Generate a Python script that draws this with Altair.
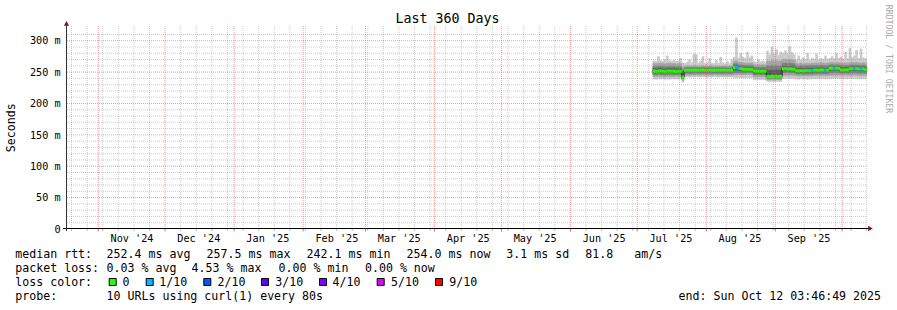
import altair as alt
import pandas as pd

# ------------------------------------------------------------------ data
FIRST_DAY = "2025-07-08"   # first day with measurements (one value per day)

median_ms = [
    251.8, 251.2, 251.6, 252.0, 251.4, 251.0, 251.5, 251.9, 251.3, 251.6, 250.9, 251.4, 251.2,
    242.1,
    252.8, 253.0, 253.1, 252.9, 253.2, 253.0, 252.8, 253.1, 253.3, 253.0, 252.9, 253.2, 253.0,
    252.7, 253.1, 253.0, 252.9, 253.2, 253.0, 252.8, 253.1, 252.9,
    257.2, 257.5, 256.0, 255.6,
    254.8, 254.4, 254.6, 254.2, 254.5,
    251.9, 251.5, 251.7, 251.3, 251.6, 251.4,
    243.0, 242.6, 243.2, 242.8, 243.4, 242.9, 243.1,
    255.2, 255.6, 254.8, 255.3, 254.9, 254.5,
    252.3, 252.0, 252.4, 251.8, 252.2, 252.5, 252.1, 252.6,
    253.0, 253.2, 252.8, 253.3, 253.1, 252.9, 253.2,
    256.1, 256.4, 255.9, 256.3, 256.0,
    253.4, 253.1, 253.6, 253.3,
    255.4, 255.8, 255.5, 255.7,
    255.2, 254.9, 255.3, 254.0,
]

loss_pings = [
    0, 0, 0, 0, 0, 0, 0, 0, 0, 0, 0, 0,
    0, 0, 0, 0, 0, 0, 0, 0, 0, 0, 0, 0,
    0, 0, 0, 0, 0, 0, 0, 0, 0, 0, 0, 0,
    0, 0.453, 0.3, 0, 0, 0, 0, 0, 0, 0, 0, 0,
    0, 0, 0, 0, 0, 0, 0, 0, 0, 0, 0, 0,
    0, 0, 0, 0, 0, 0, 0, 0, 0, 0, 0, 0.2,
    0, 0, 0, 0, 0, 0.2, 0, 0, 0, 0.3, 0, 0,
    0, 0, 0, 0, 0, 0, 0.2, 0, 0, 0.4, 0, 0,
]

# sorted ping rtts per day (ms): p1 = fastest ... p10 = slowest
p1 = [
    239.0, 238.5, 239.5, 238.8, 239.2, 238.6, 239.0, 238.4, 239.3, 238.9, 239.1, 238.7, 239.4,
    234.0,
    242.0, 242.5, 241.8, 242.3, 242.0, 242.6, 241.9, 242.2, 242.4, 242.1, 241.7, 242.3, 242.0,
    242.5, 242.2, 241.8, 242.4, 242.1, 242.3, 241.9, 242.2, 242.0,
    241.0, 240.5, 241.2, 240.8,
    241.0, 240.6, 241.3, 240.9, 241.1,
    238.0, 237.6, 238.2, 237.8, 238.1, 237.5,
    235.0, 234.6, 235.2, 234.8, 235.3, 234.7, 235.0,
    240.0, 239.5, 240.3, 239.8, 240.1, 239.6,
    239.0, 238.6, 239.3, 238.8, 239.1, 238.5, 239.2, 238.9,
    239.5, 239.1, 239.7, 239.3, 239.6, 239.0, 239.4,
    240.0, 239.6, 240.3, 239.8, 240.1,
    239.5, 239.2, 239.7, 239.3,
    240.0, 239.6, 240.2, 239.8,
    239.8, 239.4, 240.0, 239.5,
]
p2 = [
    243.0, 242.6, 243.3, 242.8, 243.1, 242.5, 243.2, 242.7, 243.0, 242.9, 243.4, 242.6, 243.1,
    237.0,
    245.0, 245.3, 244.8, 245.2, 245.0, 245.4, 244.9, 245.1, 245.3, 245.0, 244.7, 245.2, 245.0,
    245.4, 245.1, 244.8, 245.3, 245.0, 245.2, 244.9, 245.1, 245.0,
    246.0, 245.6, 246.2, 245.8,
    246.0, 245.7, 246.3, 245.9, 246.1,
    242.5, 242.1, 242.7, 242.3, 242.6, 242.0,
    238.0, 237.6, 238.3, 237.8, 238.2, 237.7, 238.0,
    245.0, 244.6, 245.3, 244.8, 245.1, 244.5,
    244.0, 243.6, 244.3, 243.8, 244.1, 243.5, 244.2, 243.9,
    244.5, 244.1, 244.7, 244.3, 244.6, 244.0, 244.4,
    245.0, 244.6, 245.3, 244.8, 245.1,
    245.0, 244.7, 245.2, 244.8,
    245.0, 244.6, 245.2, 244.8,
    244.8, 244.5, 245.0, 244.6,
]
p3 = [
    246.0, 245.7, 246.3, 245.8, 246.1, 245.6, 246.2, 245.9, 246.0, 245.8, 246.3, 245.7, 246.1,
    239.5,
    248.0, 248.2, 247.8, 248.1, 248.0, 248.3, 247.9, 248.1, 248.2, 248.0, 247.8, 248.1, 248.0,
    248.3, 248.1, 247.9, 248.2, 248.0, 248.1, 247.9, 248.0, 248.0,
    249.0, 248.7, 249.2, 248.8,
    249.0, 248.7, 249.3, 248.9, 249.1,
    246.0, 245.7, 246.2, 245.8, 246.1, 245.6,
    240.0, 239.7, 240.3, 239.8, 240.2, 239.7, 240.0,
    249.0, 248.7, 249.3, 248.8, 249.1, 248.6,
    247.0, 246.7, 247.3, 246.8, 247.1, 246.6, 247.2, 246.9,
    247.5, 247.2, 247.7, 247.3, 247.6, 247.1, 247.4,
    249.0, 248.7, 249.3, 248.8, 249.1,
    248.5, 248.2, 248.7, 248.3,
    248.8, 248.5, 249.0, 248.6,
    248.6, 248.3, 248.8, 248.0,
]
p4 = [
    249.0, 248.7, 249.2, 249.1, 248.9, 248.6, 249.1, 249.3, 248.8, 249.0, 248.5, 248.9, 248.8,
    241.0,
    250.5, 250.7, 250.8, 250.6, 250.9, 250.7, 250.5, 250.8, 251.0, 250.7, 250.6, 250.9, 250.7,
    250.4, 250.8, 250.7, 250.6, 250.9, 250.7, 250.5, 250.8, 250.6,
    253.0, 253.3, 252.5, 252.2,
    252.0, 251.7, 252.1, 251.6, 251.9,
    248.5, 248.2, 248.7, 248.3, 248.6, 248.1,
    242.0, 241.6, 242.2, 241.8, 242.3, 241.7, 242.0,
    252.0, 252.4, 251.7, 252.1, 251.8, 251.4,
    249.5, 249.2, 249.6, 249.0, 249.4, 249.7, 249.3, 249.8,
    250.2, 250.4, 250.0, 250.5, 250.3, 250.1, 250.4,
    253.0, 253.3, 252.8, 253.2, 252.9,
    250.5, 250.2, 250.7, 250.4,
    252.5, 252.9, 252.6, 252.8,
    252.3, 252.0, 252.4, 251.5,
]
p5 = [
    251.0, 250.4, 250.8, 251.2, 250.6, 250.2, 250.7, 251.1, 250.5, 250.8, 250.1, 250.6, 250.4,
    241.6,
    252.2, 252.4, 252.5, 252.3, 252.6, 252.4, 252.2, 252.5, 252.7, 252.4, 252.3, 252.6, 252.4,
    252.1, 252.5, 252.4, 252.3, 252.6, 252.4, 252.2, 252.5, 252.3,
    256.5, 256.8, 255.3, 254.9,
    254.1, 253.7, 253.9, 253.5, 253.8,
    251.1, 250.7, 250.9, 250.5, 250.8, 250.6,
    242.4, 242.0, 242.6, 242.2, 242.8, 242.3, 242.5,
    254.5, 254.9, 254.1, 254.6, 254.2, 253.8,
    251.6, 251.3, 251.7, 251.1, 251.5, 251.8, 251.4, 251.9,
    252.3, 252.5, 252.1, 252.6, 252.4, 252.2, 252.5,
    255.4, 255.7, 255.2, 255.6, 255.3,
    252.7, 252.4, 252.9, 252.6,
    254.7, 255.1, 254.8, 255.0,
    254.5, 254.2, 254.6, 253.3,
]
p6 = [
    252.6, 252.0, 252.4, 252.8, 252.2, 251.8, 252.3, 252.7, 252.1, 252.4, 251.7, 252.2, 252.0,
    242.6,
    253.4, 253.6, 253.7, 253.5, 253.8, 253.6, 253.4, 253.7, 253.9, 253.6, 253.5, 253.8, 253.6,
    253.3, 253.7, 253.6, 253.5, 253.8, 253.6, 253.4, 253.7, 253.5,
    257.9, 258.2, 256.7, 256.3,
    255.5, 255.1, 255.3, 254.9, 255.2,
    252.7, 252.3, 252.5, 252.1, 252.4, 252.2,
    243.6, 243.2, 243.8, 243.4, 244.0, 243.5, 243.7,
    255.9, 256.3, 255.5, 256.0, 255.6, 255.2,
    253.0, 252.7, 253.1, 252.5, 252.9, 253.2, 252.8, 253.3,
    253.7, 253.9, 253.5, 254.0, 253.8, 253.6, 253.9,
    256.8, 257.1, 256.6, 257.0, 256.7,
    254.1, 253.8, 254.3, 254.0,
    256.1, 256.5, 256.2, 256.4,
    255.9, 255.6, 256.0, 254.7,
]
p7 = [
    255.5, 255.0, 255.8, 256.0, 255.3, 254.9, 255.4, 255.9, 255.2, 255.6, 254.8, 255.3, 255.1,
    246.0,
    255.0, 255.2, 255.3, 255.1, 255.4, 255.2, 255.0, 255.3, 255.5, 255.2, 255.1, 255.4, 255.2,
    254.9, 255.3, 255.2, 255.1, 255.4, 255.2, 255.0, 255.3, 255.1,
    260.0, 260.5, 259.0, 258.6,
    258.0, 257.6, 257.9, 257.4, 257.7,
    255.0, 254.6, 254.9, 254.4, 254.8, 254.5,
    253.0, 252.4, 253.3, 252.8, 253.5, 252.6, 253.1,
    259.0, 259.4, 258.6, 259.1, 258.7, 258.2,
    256.0, 255.6, 256.2, 255.5, 255.9, 256.3, 255.8, 256.4,
    256.3, 256.6, 256.1, 256.7, 256.4, 256.2, 256.5,
    259.0, 259.4, 258.8, 259.2, 258.9,
    257.0, 256.7, 257.3, 256.9,
    258.5, 258.9, 258.6, 258.8,
    258.3, 258.0, 258.5, 257.5,
]
p8 = [
    259.0, 258.5, 259.3, 259.5, 258.8, 258.4, 259.0, 259.4, 258.7, 259.1, 258.3, 258.8, 258.6,
    252.0,
    257.0, 257.3, 257.4, 257.1, 257.5, 257.2, 257.0, 257.4, 257.6, 257.2, 257.1, 257.5, 257.2,
    256.9, 257.3, 257.2, 257.1, 257.4, 257.2, 257.0, 257.3, 257.1,
    263.0, 263.6, 262.0, 261.5,
    261.0, 260.5, 260.9, 260.3, 260.7,
    258.0, 257.6, 258.0, 257.4, 257.8, 257.5,
    260.0, 259.4, 260.4, 259.7, 260.5, 259.5, 260.1,
    264.0, 264.5, 263.6, 264.2, 263.7, 263.2,
    260.0, 259.5, 260.3, 259.4, 259.9, 260.4, 259.7, 260.5,
    260.3, 260.7, 260.0, 260.8, 260.4, 260.1, 260.6,
    261.5, 262.0, 261.2, 261.8, 261.4,
    260.5, 260.1, 260.8, 260.3,
    261.0, 261.5, 261.2, 261.4,
    260.8, 260.4, 261.0, 260.2,
]
p9 = [
    264.0, 263.4, 264.5, 264.8, 263.8, 263.2, 264.1, 264.6, 263.6, 264.2, 263.1, 263.9, 263.5,
    258.0,
    259.5, 259.9, 260.0, 259.6, 260.2, 259.8, 259.5, 260.0, 260.3, 259.8, 259.6, 260.1, 259.8,
    259.4, 259.9, 259.8, 259.6, 260.0, 259.8, 259.5, 259.9, 259.7,
    267.0, 268.0, 266.0, 265.5,
    265.0, 264.4, 264.9, 264.1, 264.6,
    262.0, 261.5, 262.2, 261.3, 261.8, 261.4,
    268.0, 267.2, 268.6, 267.6, 268.8, 267.3, 268.1,
    270.0, 270.8, 269.5, 270.3, 269.7, 269.0,
    264.0, 263.4, 264.4, 263.2, 263.8, 264.5, 263.6, 264.6,
    264.3, 264.8, 264.0, 265.0, 264.5, 264.1, 264.7,
    265.0, 265.6, 264.7, 265.4, 264.9,
    264.5, 264.0, 264.9, 264.3,
    265.0, 265.6, 265.2, 265.5,
    264.8, 264.3, 265.1, 264.0,
]
p10 = [
    268.0, 267.0, 275.0, 268.5, 267.5, 270.0, 276.0, 268.8, 267.2, 269.0, 266.8, 268.0, 272.0,
    265.0,
    264.0, 266.0, 270.0, 265.0, 279.0, 278.0, 264.5, 268.0, 275.0, 264.0, 265.5, 272.0, 264.2,
    263.8, 269.0, 264.5, 274.0, 265.0, 264.0, 267.0, 264.3, 270.0,
    274.0, 305.0, 273.0, 280.0,
    274.0, 272.0, 282.0, 273.0, 276.0,
    267.0, 266.0, 270.0, 266.5, 268.0, 266.0,
    284.0, 278.0, 290.0, 279.0, 286.0, 277.5, 282.0,
    280.0, 284.0, 279.0, 291.0, 281.0, 278.0,
    270.0, 276.0, 269.5, 273.0, 270.0, 280.0, 269.0, 272.0,
    271.0, 279.0, 270.0, 272.0, 270.5, 276.0, 271.0,
    272.0, 275.0, 271.5, 280.0, 272.0,
    274.0, 271.0, 282.0, 272.0,
    288.0, 273.0, 276.0, 285.0,
    272.0, 287.0, 273.0, 272.0,
]

month_starts = ["2024-11-01", "2024-12-01", "2025-01-01", "2025-02-01", "2025-03-01",
                "2025-04-01", "2025-05-01", "2025-06-01", "2025-07-01", "2025-08-01",
                "2025-09-01", "2025-10-01"]
month_label_days = ["2024-11-16", "2024-12-16", "2025-01-16", "2025-02-16", "2025-03-16",
                    "2025-04-16", "2025-05-16", "2025-06-16", "2025-07-16", "2025-08-16",
                    "2025-09-16"]
month_labels = ["Nov '24", "Dec '24", "Jan '25", "Feb '25", "Mar '25", "Apr '25",
                "May '25", "Jun '25", "Jul '25", "Aug '25", "Sep '25"]

y_ticks_ms = [0, 50, 100, 150, 200, 250, 300]
NB = "\u00a0"
y_tick_labels = ["0" + NB + NB, "50 m", "100 m", "150 m", "200 m", "250 m", "300 m"]
y_minor_ms = [10, 20, 30, 40, 60, 70, 80, 90, 110, 120, 130, 140, 160, 170, 180, 190,
              210, 220, 230, 240, 260, 270, 280, 290, 310]
y_major_ms = [50, 100, 150, 200, 250, 300]

loss_levels = ["0", "1/10", "2/10", "3/10", "4/10", "5/10", "9/10"]
loss_limits = [0, 1, 2, 3, 4, 5, 10]
loss_colors = ["#26ff00", "#00b8ff", "#0059ff", "#5e00ff", "#7e00ff", "#dd00ff", "#ff0000"]
smoke_colors = ["#cacaca", "#a4a4a4", "#7e7e7e", "#585858", "#323232"]

title_text = "Last 360 Days"
y_title = "Seconds"
watermark = "RRDTOOL / TOBI OETIKER"
rtt_row = ["median rtt:", "252.4 ms avg", "257.5 ms max", "242.1 ms min", "254.0 ms now",
           "3.1 ms sd", "81.8", "am/s"]
loss_row = ["packet loss:", "0.03 % avg", "4.53 % max", "0.00 % min", "0.00 % now"]
color_row_title = "loss color:"
probe_row = ["probe:", "10 URLs using curl(1) every 80s"]
end_text = "end: Sun Oct 12 03:46:49 2025"

# ------------------------------------------------------------------ frame
N = len(median_ms)
for arr in (loss_pings, p1, p2, p3, p4, p5, p6, p7, p8, p9, p10):
    assert len(arr) == N, len(arr)


def iso(ts):
    return pd.Timestamp(ts).strftime("%Y-%m-%dT%H:%M:%SZ")


def level(l):
    for lim, name in zip(loss_limits, loss_levels):
        if l <= lim:
            return name
    return loss_levels[-1]


days = pd.date_range(FIRST_DAY, periods=N, freq="D")
df = pd.DataFrame({
    "start": [iso(d) for d in days],
    "end": [iso(d + pd.Timedelta(days=1)) for d in days],
    "mid": [iso(d + pd.Timedelta(hours=12)) for d in days],
    "median": median_ms,
    "level": [level(l) for l in loss_pings],
    "p1": p1, "p2": p2, "p3": p3, "p4": p4, "p5": p5,
    "p6": p6, "p7": p7, "p8": p8, "p9": p9, "p10": p10,
})

W, H = 800, 203
MONO = "DejaVu Sans Mono"
HALF_BAND = 2.2  # ms, half height of the loss-coloured median band

xscale = alt.Scale(type="utc", domain=[
    alt.DateTime(year=2024, month=10, date=17, hours=23, utc=True),
    alt.DateTime(year=2025, month=10, date=12, hours=3, minutes=47, utc=True)])
yscale = alt.Scale(domain=[0, 323.5], nice=False)

one = pd.DataFrame({"a": [0]})
layers = []

# smoke
pairs = [("p1", "p10"), ("p2", "p9"), ("p3", "p8"), ("p4", "p7"), ("p5", "p6")]
for (lo, hi), col in zip(pairs, smoke_colors):
    layers.append(alt.Chart(df).mark_rect(color=col, stroke=col, strokeWidth=0.4).encode(
        x=alt.X("start:T", scale=xscale, axis=None), x2="end:T",
        y=alt.Y(f"{lo}:Q", scale=yscale, axis=None), y2=f"{hi}:Q"))

# median line (black) and loss coloured band
layers.append(alt.Chart(df).mark_line(interpolate="step", color="#202020", strokeWidth=1).encode(
    x=alt.X("mid:T", scale=xscale, axis=None),
    y=alt.Y("median:Q", scale=yscale, axis=None)))
layers.append(alt.Chart(df).transform_calculate(
    lo=f"datum.median - {HALF_BAND}", hi=f"datum.median + {HALF_BAND}"
).mark_rect(strokeWidth=0.4).encode(
    x=alt.X("start:T", scale=xscale, axis=None), x2="end:T",
    y=alt.Y("lo:Q", scale=yscale, axis=None), y2="hi:Q",
    color=alt.Color("level:N", scale=alt.Scale(domain=loss_levels, range=loss_colors), legend=None),
    stroke=alt.Stroke("level:N", scale=alt.Scale(domain=loss_levels, range=loss_colors), legend=None)))

# grid
ms_iso = set(iso(m) for m in month_starts)
weeks = [iso(d) for d in pd.date_range("2024-10-20", "2025-10-12", freq="7D") if iso(d) not in ms_iso]
wk_df = pd.DataFrame({"t": weeks})
mo_df = pd.DataFrame({"t": [iso(m) for m in month_starts]})
GRID = dict(color="#8f8f8f", opacity=0.45, strokeDash=[1, 1], strokeWidth=1)
MGRID = dict(color="#de5050", opacity=0.55, strokeDash=[1, 1], strokeWidth=1)
layers.append(alt.Chart(wk_df).mark_rule(**GRID).encode(
    x=alt.X("t:T", scale=xscale, axis=None), y=alt.value(0), y2=alt.value(H)))
layers.append(alt.Chart(pd.DataFrame({"v": y_minor_ms})).mark_rule(**GRID).encode(
    y=alt.Y("v:Q", scale=yscale, axis=None), x=alt.value(0), x2=alt.value(W)))
layers.append(alt.Chart(mo_df).mark_rule(**MGRID).encode(
    x=alt.X("t:T", scale=xscale, axis=None), y=alt.value(0), y2=alt.value(H)))
layers.append(alt.Chart(pd.DataFrame({"v": y_major_ms})).mark_rule(**MGRID).encode(
    y=alt.Y("v:Q", scale=yscale, axis=None), x=alt.value(0), x2=alt.value(W)))

# small ticks under the x axis
layers.append(alt.Chart(wk_df).mark_rule(color="#8f8f8f", opacity=0.6).encode(
    x=alt.X("t:T", scale=xscale, axis=None), y=alt.value(H - 0.5), y2=alt.value(H + 2)))
layers.append(alt.Chart(mo_df).mark_rule(color="#de5050", opacity=0.8).encode(
    x=alt.X("t:T", scale=xscale, axis=None), y=alt.value(H - 0.5), y2=alt.value(H + 2.5)))

# axes lines and arrows
layers.append(alt.Chart(one).mark_rule(color="#000000", strokeWidth=1).encode(
    x=alt.value(-4), x2=alt.value(802), y=alt.value(H - 0.5)))
layers.append(alt.Chart(one).mark_rule(color="#333333", strokeWidth=1).encode(
    x=alt.value(-0.5), y=alt.value(-1), y2=alt.value(H + 2)))
layers.append(alt.Chart(one).mark_point(shape="triangle-right", filled=True, size=28,
                                        color="#7f1d1d", opacity=1).encode(
    x=alt.value(803.5), y=alt.value(H - 0.5)))
layers.append(alt.Chart(one).mark_point(shape="triangle-up", filled=True, size=28,
                                        color="#7f1d1d", opacity=1).encode(
    x=alt.value(-0.5), y=alt.value(-2.6)))

# tick labels
layers.append(alt.Chart(pd.DataFrame({"t": [iso(d) for d in month_label_days],
                                      "label": month_labels})).mark_text(
    font=MONO, fontSize=10.2, align="center", baseline="alphabetic", dx=0.3, color="#000000").encode(
    x=alt.X("t:T", scale=xscale, axis=None), y=alt.value(215.7), text="label:N"))
layers.append(alt.Chart(pd.DataFrame({"v": y_ticks_ms, "label": y_tick_labels})).mark_text(
    font=MONO, fontSize=10.2, align="right", baseline="middle", dy=0.7, color="#000000").encode(
    y=alt.Y("v:Q", scale=yscale, axis=None), x=alt.value(-6.4), text="label:N"))


def txt(s, x, y, size=11.6, align="left", angle=0, color="#000000"):
    kw = dict(text=s, font=MONO, fontSize=size, align=align, baseline="alphabetic", color=color)
    if angle:
        kw["angle"] = angle
    return alt.Chart(one).mark_text(**kw).encode(x=alt.value(x), y=alt.value(y))


layers.append(txt(title_text, 380.5, -3, size=13.3, align="center"))
layers.append(txt(y_title, -52, 101.8, align="center", angle=270))
layers.append(txt(watermark, 819, 33, size=8.2, align="center", angle=90, color="#aaaaaa"))

ROW_Y = [232.3, 246.3, 260.3, 274.3]
rtt_x = [-51.7, 39.6, 139.6, 239.6, 339.6, 439.3, 518.3, 567.3]
for s, x in zip(rtt_row, rtt_x):
    layers.append(txt(s, x, ROW_Y[0]))
loss_x = [-51.7, 39.6, 124.6, 211.6, 298.0]
for s, x in zip(loss_row, loss_x):
    layers.append(txt(s, x, ROW_Y[1]))
layers.append(txt(color_row_title, -51.7, ROW_Y[2]))
sq_left = [41.7, 78.7, 136.3, 194.0, 252.0, 309.7, 368.0]
lab_x = [55.6, 92.3, 150.6, 208.3, 265.6, 324.0, 382.3]
for name, col, sx, lx in zip(loss_levels, loss_colors, sq_left, lab_x):
    layers.append(alt.Chart(one).mark_rect(color=col, stroke="#000000", strokeWidth=1).encode(
        x=alt.value(sx + 0.5), x2=alt.value(sx + 7.5), y=alt.value(252.5), y2=alt.value(259.5)))
    layers.append(txt(name, lx, ROW_Y[2]))
layers.append(txt(probe_row[0], -51.7, ROW_Y[3]))
layers.append(txt(probe_row[1], 39.6, ROW_Y[3]))
layers.append(txt(end_text, 814, ROW_Y[3], align="right"))

chart = alt.layer(*layers).properties(
    width=W, height=H,
    padding={"left": 67, "top": 26, "right": 30, "bottom": 81},
    autosize=alt.AutoSizeParams(type="none"),
    background="#ffffff",
).configure_view(strokeWidth=0)

chart.save("out.html", embed_options={"renderer": "svg", "actions": False})
